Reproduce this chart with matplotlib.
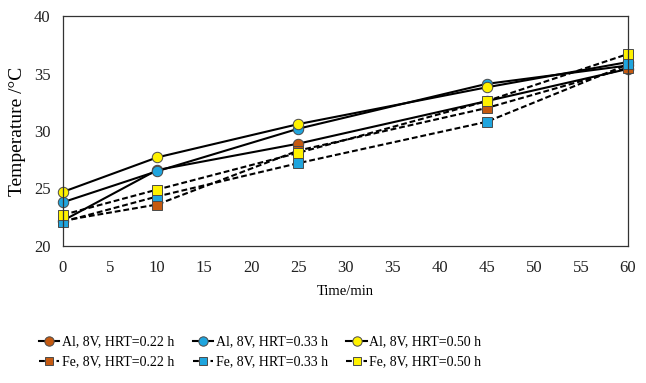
import matplotlib.pyplot as plt

plt.rcParams['font.family'] = ['Liberation Serif', 'DejaVu Serif']

time_min = [0, 10, 25, 45, 60]

al_022 = [22.2, 26.6, 28.9, 32.6, 35.4]
al_033 = [23.8, 26.5, 30.2, 34.1, 35.7]
al_050 = [24.7, 27.7, 30.6, 33.8, 36.0]
fe_022 = [22.2, 23.6, 28.3, 32.0, 35.5]
fe_033 = [22.1, 24.3, 27.2, 30.8, 35.8]
fe_050 = [22.7, 24.9, 28.1, 32.6, 36.7]

labels_al = ['Al, 8V, HRT=0.22 h', 'Al, 8V, HRT=0.33 h', 'Al, 8V, HRT=0.50 h']
labels_fe = ['Fe, 8V, HRT=0.22 h', 'Fe, 8V, HRT=0.33 h', 'Fe, 8V, HRT=0.50 h']
colors = ['#C55A11', '#1FA5DE', '#FFF200']

fig = plt.figure(figsize=(6.46, 3.83), dpi=100)
ax = fig.add_axes([0.0975, 0.358, 0.8745, 0.6])

al_lines = []
for y, lab, c in zip([al_022, al_033, al_050], labels_al, colors):
    h, = ax.plot(time_min, y, '-', color='black', lw=1.5, marker='o', ms=7.5,
                 mfc=c, mec='#4a4a4a', mew=0.7, label=lab)
    al_lines.append(h)
fe_lines = []
for y, lab, c in zip([fe_022, fe_033, fe_050], labels_fe, colors):
    h, = ax.plot(time_min, y, '--', color='black', lw=1.5, marker='s', ms=7,
                 mfc=c, mec='#4a4a4a', mew=0.7, label=lab, dashes=(2.8, 1.4))
    fe_lines.append(h)

ax.set_xlim(0, 60)
ax.set_ylim(20, 40)
ax.set_xticks(range(0, 61, 5))
ax.set_yticks(range(20, 41, 5))
ax.tick_params(length=0, labelsize=12, colors='#222222')
ax.tick_params(axis='x', pad=10)
ax.tick_params(axis='y', pad=9)
for s in ax.spines.values():
    s.set_color('#333333')
    s.set_linewidth(0.9)
for ln in ax.lines:
    ln.set_clip_on(False)

ax.set_xlabel('Time/min', fontsize=10.5, labelpad=7)
ax.set_ylabel('Temperature /°C', fontsize=14, labelpad=6)

# legend filled column by column, so interleave to get Al on row 1, Fe on row 2
order = []
for a, f in zip(al_lines, fe_lines):
    order += [a, f]
fig.legend(handles=order, loc='upper left', bbox_to_anchor=(0.049, 0.142),
           ncol=3, frameon=False, fontsize=10, handlelength=1.5, borderpad=0,
           handletextpad=0.15, columnspacing=1.35, labelspacing=0.5, markerscale=0.9)

fig.savefig('out.png', dpi=100)
